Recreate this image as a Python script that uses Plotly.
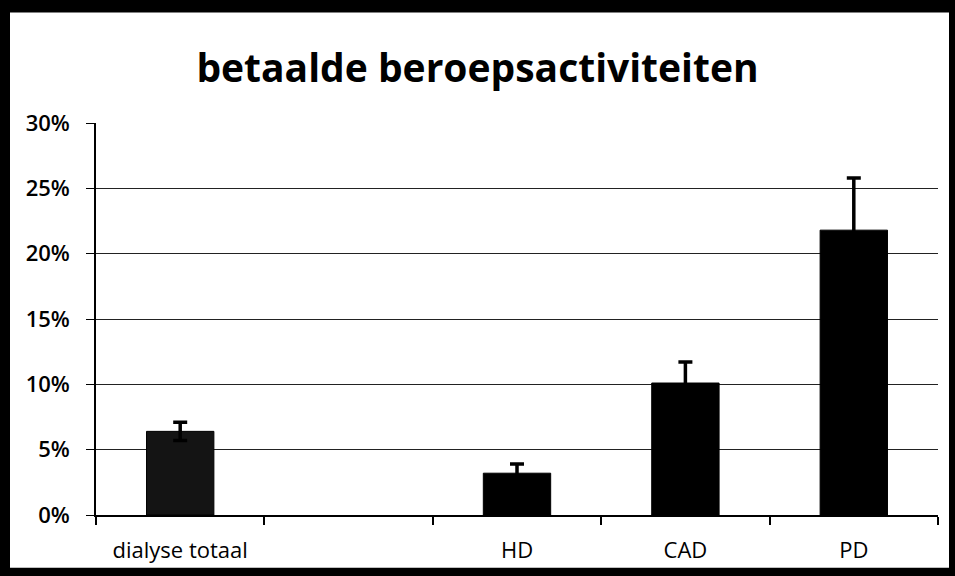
import plotly.graph_objects as go

# ---- data ----
categories = ["dialyse totaal", " ", "HD", "CAD", "PD"]
values = [0.064, None, 0.032, 0.101, 0.218]
errors = [0.007, None, 0.007, 0.016, 0.040]
bar_colors = ["#141414", "#000000", "#000000", "#000000", "#000000"]
y_ticks = [0, 0.05, 0.10, 0.15, 0.20, 0.25, 0.30]
y_tick_labels = ["0%", "5%", "10%", "15%", "20%", "25%", "30%"]
title_text = "betaalde beroepsactiviteiten"

W, H = 955, 576
ml, mr, mt, mb = 96, 17, 123, 59
pw, ph = W - ml - mr, H - mt - mb

def px_x(p):
    return (p - ml) / pw

def px_y(p):
    return 1 - (p - mt) / ph

fig = go.Figure()
fig.add_trace(go.Bar(
    x=categories, y=values,
    marker=dict(color=bar_colors, line=dict(color="#000000", width=1)),
    error_y=dict(type="data", array=errors, symmetric=True,
                 color="#000000", thickness=3.5, width=7),
    width=0.4,
    showlegend=False,
))

fig.update_layout(
    width=W, height=H,
    margin=dict(l=ml, r=mr, t=mt, b=mb),
    paper_bgcolor="#000000",
    plot_bgcolor="rgba(0,0,0,0)",
    title=dict(text="<b>" + title_text + "</b>", x=0.5, xanchor="center",
               y=1 - 68 / H, yanchor="middle", yref="container",
               font=dict(family="Open Sans", size=39, color="#000000")),
    shapes=[dict(type="rect", xref="paper", yref="paper", layer="below",
                 x0=px_x(10), x1=px_x(949), y0=px_y(570), y1=px_y(12),
                 fillcolor="#ffffff", line=dict(width=0))],
    xaxis=dict(
        type="category", categoryorder="array", categoryarray=categories,
        tickson="boundaries", ticks="outside", ticklen=8, tickwidth=1.5,
        tickcolor="#000000", showline=True, linecolor="#000000", linewidth=1.5,
        showgrid=False, range=[-0.5, 4.5],
        tickfont=dict(family="Open Sans", size=22, color="#000000"),
        ticklabelstandoff=15,
    ),
    yaxis=dict(
        range=[0, 0.30], tickvals=y_ticks, ticktext=y_tick_labels,
        ticks="outside", ticklen=8, tickwidth=1, tickcolor="#000000",
        showline=True, linecolor="#000000", linewidth=1.5,
        showgrid=True, gridcolor="#222222", gridwidth=1.2,
        zeroline=False,
        tickfont=dict(family="Open Sans", size=22, color="#000000", weight=600),
        ticklabelstandoff=12,
    ),
)

fig.write_html("out.html",
               config={"displayModeBar": False},
               post_script="document.body.style.margin='0';document.body.style.padding='0';")
